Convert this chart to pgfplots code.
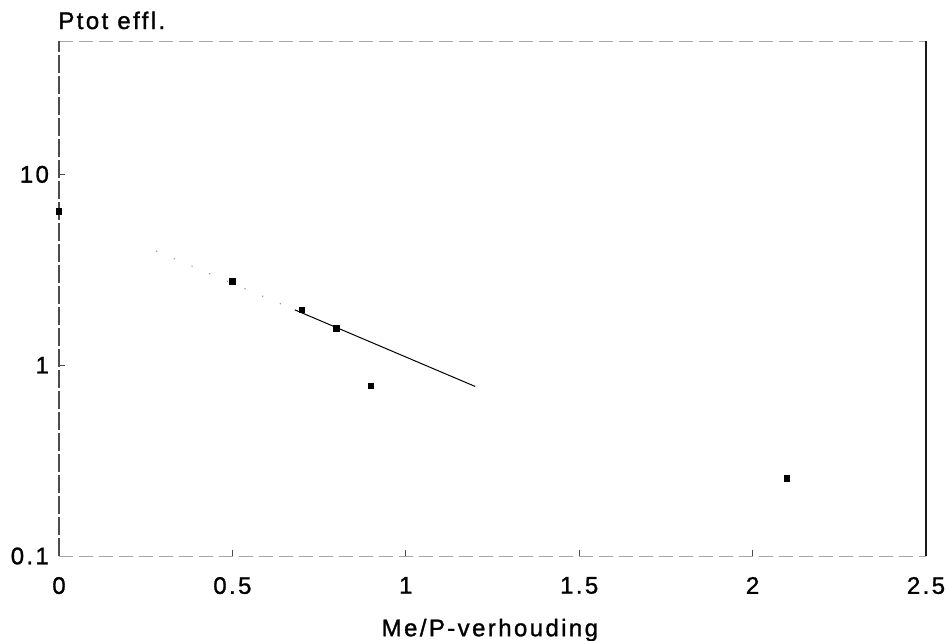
\documentclass[border=0pt]{standalone}
\usepackage{fontspec}
\setmainfont{Liberation Sans}[LetterSpace=10, FakeBold=1.2]
\usepackage{pgfplots}
\pgfplotsset{compat=1.18}

\begin{document}
\begin{tikzpicture}
\begin{axis}[
  scale only axis,
  width=433.5pt, height=257.5pt,
  xmin=0, xmax=2.5,
  ymode=log, ymin=0.1, ymax=50,
  xtick={0,0.5,1,1.5,2,2.5},
  xticklabels={0,0.5,1,1.5,2,2.5},
  ytick={0.1,1,10},
  yticklabels={0.1,1,10},
  yminorticks=false,
  tick style={draw=black!70, line width=0.4pt},
  major tick length=3pt,
  xtick pos=bottom, ytick pos=left,
  tick label style={font=\fontsize{12pt}{14pt}\selectfont},
  xticklabel shift=7pt,
  yticklabel shift=1.5pt,
  axis line style={draw=none},
  xlabel={Me/P-verhouding},
  xlabel style={font=\fontsize{12pt}{14pt}\selectfont, at={(axis description cs:0.497,0)}, anchor=center, yshift=-37pt},
  clip=false,
]
% frame: faint top/bottom, solid sides (as in the scan)
\draw[black!35, line width=0.4pt, dash pattern=on 7pt off 3pt] (rel axis cs:0,0) -- (rel axis cs:1,0);
\draw[black!35, line width=0.4pt, dash pattern=on 7pt off 3pt] (rel axis cs:0,1) -- (rel axis cs:1,1);
\draw[black!70, line width=0.7pt, dash pattern=on 9pt off 1.5pt] (rel axis cs:0,0) -- (rel axis cs:0,1);
\draw[black!90, line width=0.6pt] (rel axis cs:1,0) -- (rel axis cs:1,1);
% measured points
\addplot[only marks, mark=square*, mark size=1.3pt, black] coordinates {
  (0,6.4) (0.5,2.75) (0.7,1.95) (0.8,1.56) (0.9,0.78) (2.1,0.255)
};
% fitted line
\addplot[black, line width=0.5pt] coordinates {(0.68,1.95) (1.2,0.774)};
\addplot[black!45, line width=0.5pt, dash pattern=on 0.6pt off 9pt] coordinates {(0.28,3.97) (0.68,1.95)};
\node[anchor=base west, inner sep=0pt, font=\fontsize{12pt}{14pt}\selectfont] at (rel axis cs:0,1) [xshift=-0.5pt, yshift=6pt] {Ptot effl.};
\end{axis}
\pgfresetboundingbox
\path ([shift={(-29.5pt,-42pt)}]current axis.south west) rectangle ([shift={(12pt,20.5pt)}]current axis.north east);
\end{tikzpicture}
\end{document}
